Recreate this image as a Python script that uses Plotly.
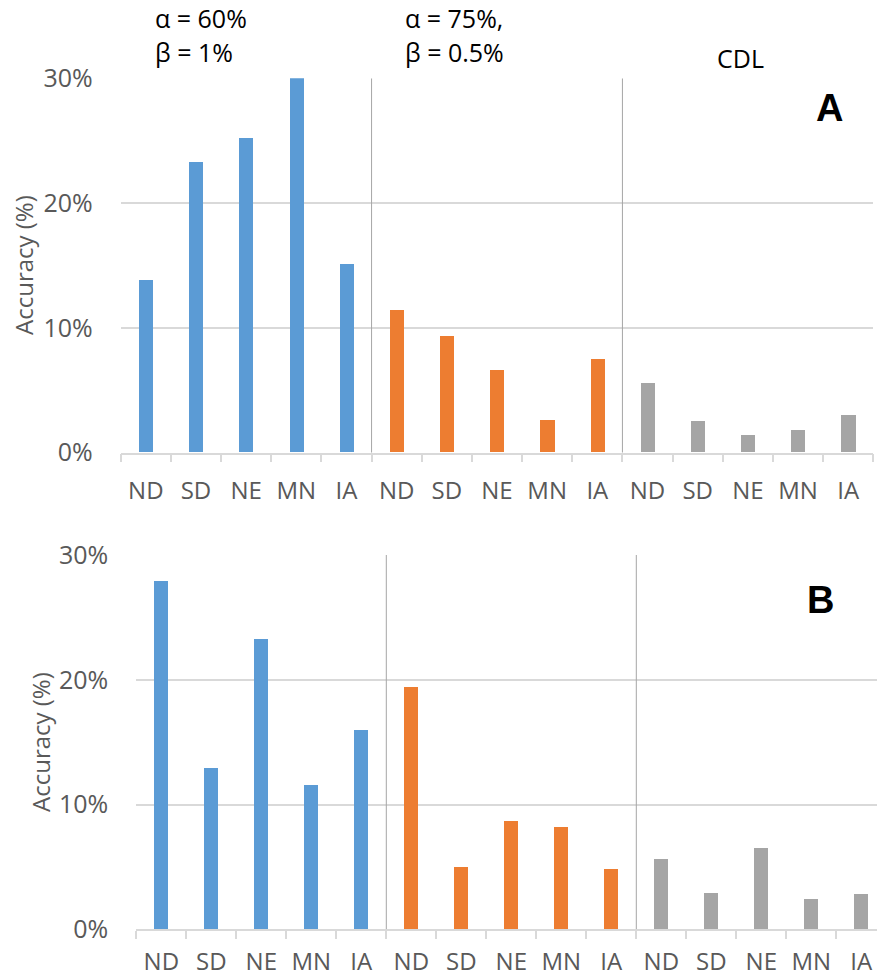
import plotly.graph_objects as go

states = ["ND", "SD", "NE", "MN", "IA"]
groups = ["α = 60%, β = 1%", "α = 75%, β = 0.5%", "CDL"]
colors = ["#5b9bd5", "#ed7d31", "#a5a5a5"]

# Panel A accuracy (%)
A_alpha60 = [13.8, 23.3, 25.2, 30.0, 15.1]
A_alpha75 = [11.4, 9.3, 6.6, 2.6, 7.5]
A_cdl = [5.6, 2.5, 1.4, 1.8, 3.0]
# Panel B accuracy (%)
B_alpha60 = [27.9, 12.9, 23.3, 11.6, 16.0]
B_alpha75 = [19.4, 5.0, 8.7, 8.2, 4.8]
B_cdl = [5.6, 2.9, 6.5, 2.4, 2.8]

y_ticks = [0, 10, 20, 30]
y_tick_labels = ["0%", "10%", "20%", "30%"]

W, H = 877, 980
FONT = "Open Sans"
GRID = "#d9d9d9"
TXT = "#595959"

fig = go.Figure()

panels = [
    ("x", "y", [A_alpha60, A_alpha75, A_cdl]),
    ("x2", "y2", [B_alpha60, B_alpha75, B_cdl]),
]
for xa, ya, series in panels:
    for g, (vals, col) in enumerate(zip(series, colors)):
        xs = [g * len(states) + i for i in range(len(states))]
        fig.add_trace(go.Bar(x=xs, y=vals, marker=dict(color=col, line=dict(width=0)),
                             width=0.28, xaxis=xa, yaxis=ya, showlegend=False,
                             name=groups[g]))

centers = list(range(len(states) * len(groups)))
labels = states * len(groups)

def xaxis_cfg(domain, rng, standoff):
    return dict(domain=domain, range=rng, showgrid=False, zeroline=False,
                showline=True, linecolor=GRID, linewidth=1.5, automargin=False,
                tickmode="array", tickvals=centers, ticktext=labels, ticks="",
                ticklabelstandoff=standoff,
                tickfont=dict(family=FONT, size=24, color=TXT),
                minor=dict(tickmode="linear", tick0=-0.5, dtick=1, ticks="outside",
                           ticklen=8, tickwidth=1.5, tickcolor=GRID, showgrid=False),
                fixedrange=True)

def yaxis_cfg(domain, anchor):
    return dict(domain=domain, range=[0, 30], anchor=anchor, tickmode="array",
                tickvals=y_ticks, ticktext=y_tick_labels, showgrid=True, gridcolor=GRID,
                gridwidth=1.5, zeroline=False, showline=False, ticks="",
                automargin=False, ticklabelstandoff=27,
                tickfont=dict(family=FONT, size=25, color=TXT), fixedrange=True)

# Panel A geometry
ax_l, ax_r = 120.7, 873.3
ay_t, ay_b = 78.3, 452.7
# Panel B geometry
bx_l = 136.3
by_t, by_b = 555.0, 929.3
cat_w = 50.0

fig.update_layout(
    width=W, height=H, margin=dict(l=0, r=0, t=0, b=0, autoexpand=False),
    paper_bgcolor="white", plot_bgcolor="white",
    bargap=0,
    xaxis=xaxis_cfg([ax_l / W, ax_r / W], [-0.5, 14.5], 16) | dict(anchor="y"),
    yaxis=yaxis_cfg([1 - ay_b / H, 1 - ay_t / H], "x"),
    xaxis2=xaxis_cfg([bx_l / W, 1.0], [-0.5, -0.5 + (W - bx_l) / cat_w], 10) | dict(anchor="y2"),
    yaxis2=yaxis_cfg([1 - by_b / H, 1 - by_t / H], "x2"),
)

# group separators
for xr, yr in [("x", "y"), ("x2", "y2")]:
    for b in [4.5, 9.5]:
        fig.add_shape(type="line", xref=xr, yref=yr, x0=b, x1=b, y0=0, y1=30,
                      line=dict(color="#a6a6a6", width=1))

def px_ann(text, x, y, size=24, color="black", xanchor="left", yanchor="middle",
           bold=False, family=FONT, angle=0):
    fig.add_annotation(text=f"<b>{text}</b>" if bold else text,
                       xref="paper", yref="paper", x=x / W, y=1 - y / H,
                       xanchor=xanchor, yanchor=yanchor, showarrow=False,
                       textangle=angle,
                       font=dict(family=family, size=size, color=color))

# headers
px_ann("α = 60%", 153, 18, size=25)
px_ann("β = 1%", 153, 52, size=25)
px_ann("α = 75%,", 403, 18, size=25)
px_ann("β = 0.5%", 403, 52, size=25)
px_ann("CDL", 715, 58, size=25)

# panel letters
px_ann("A", 829.5, 108, size=38, bold=True, xanchor="center", family="Liberation Sans")
px_ann("B", 820.5, 599.5, size=38, bold=True, xanchor="center", family="Liberation Sans")

# y axis titles
px_ann("Accuracy (%)", 23, 265, size=24, color=TXT, xanchor="center", angle=-90)
px_ann("Accuracy (%)", 40, 742, size=24, color=TXT, xanchor="center", angle=-90)

fig.write_html("out.html")
